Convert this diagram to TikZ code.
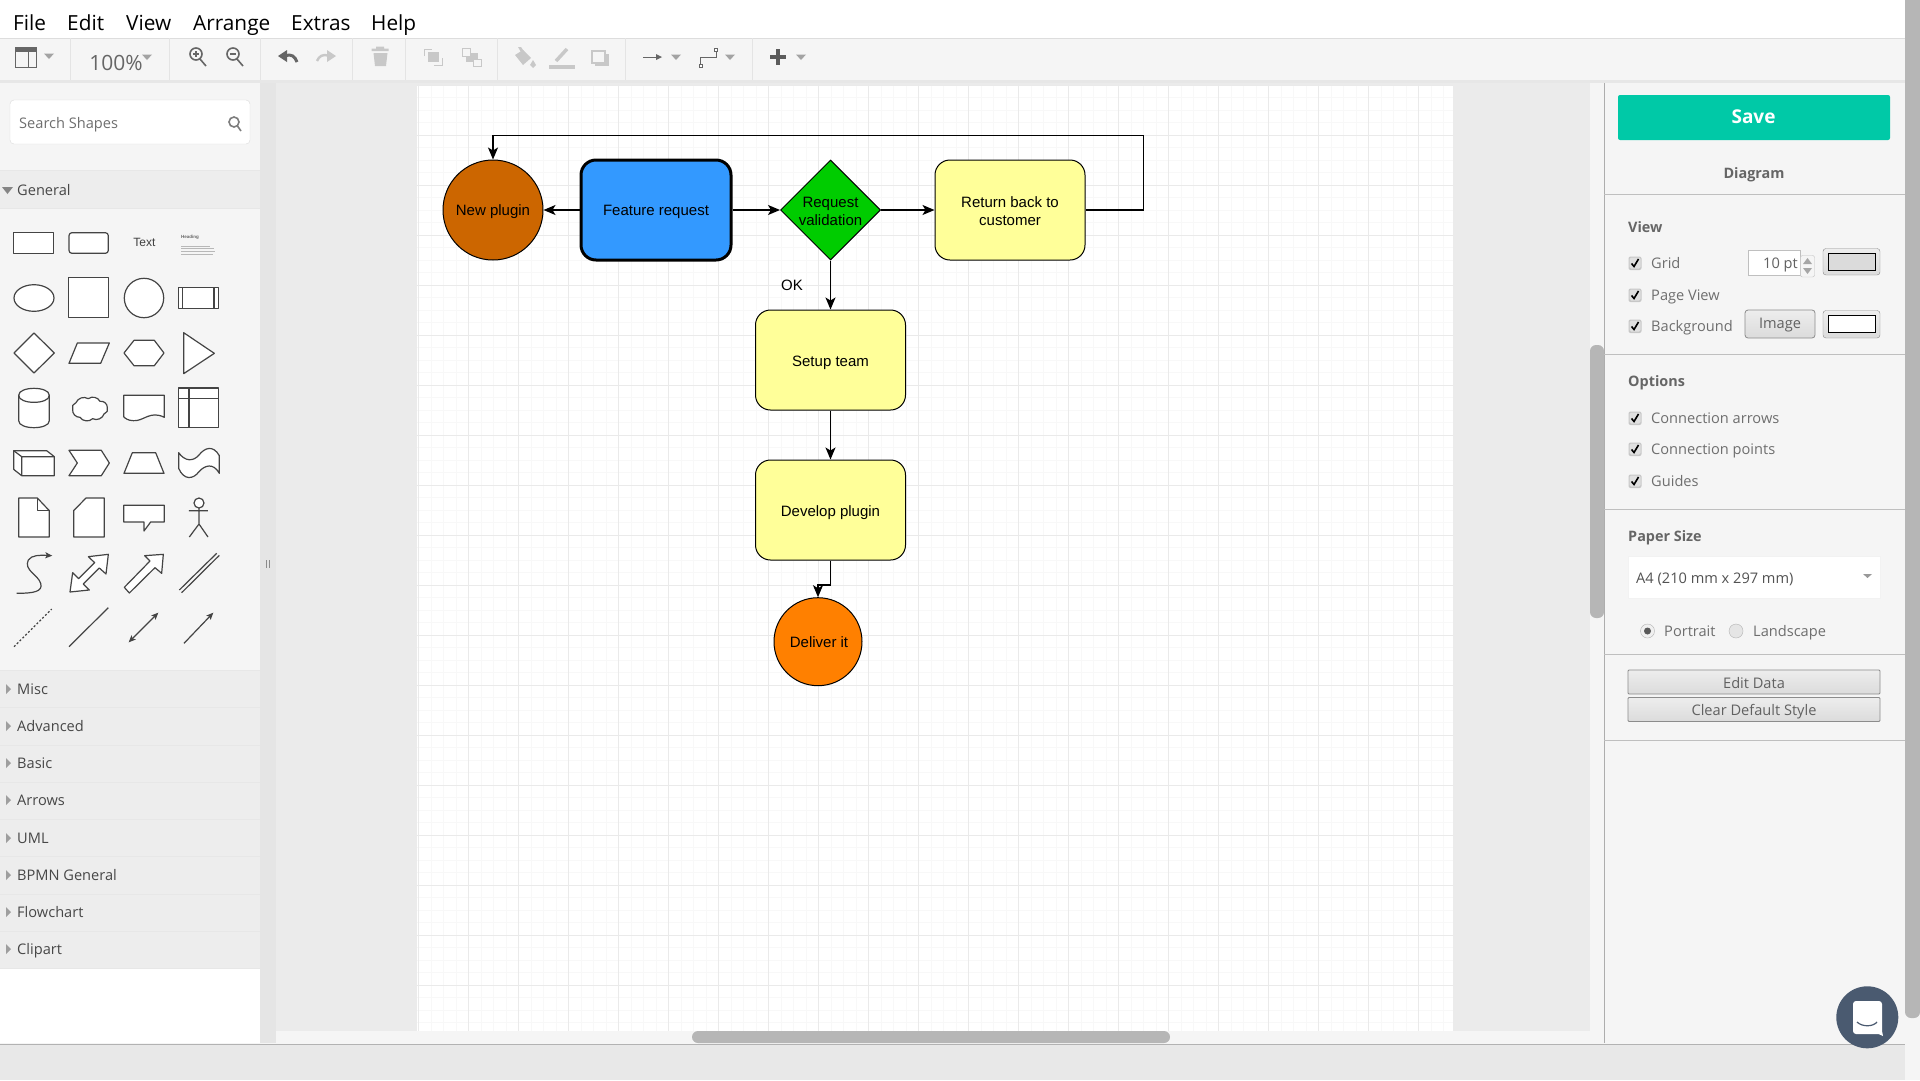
\documentclass[tikz,border=0pt]{standalone}
\usepackage{fontspec}
\setmainfont{Liberation Sans}
\newfontfamily\uifont{Open Sans}
\usetikzlibrary{arrows.meta,shapes.geometric,calc}
\definecolor{uibg}{HTML}{F5F5F5}
\definecolor{hdrbg}{HTML}{EDEDED}
\definecolor{canv}{HTML}{EBEBEB}
\definecolor{scrollc}{HTML}{B6B6B6}
\definecolor{gridmin}{HTML}{F8F8F8}
\definecolor{gridmaj}{HTML}{EAEAEA}
\definecolor{sepc}{HTML}{DDDDDD}
\definecolor{pen}{HTML}{444444}
\definecolor{icond}{HTML}{666666}
\definecolor{iconl}{HTML}{C8C8C8}
\definecolor{yel}{HTML}{FFFF99}
\definecolor{uitext}{HTML}{6E6E6E}
\definecolor{bluef}{HTML}{3399FF}
\definecolor{greenf}{HTML}{00CC00}
\definecolor{brownf}{HTML}{CC6600}
\definecolor{orangef}{HTML}{FF8000}
\definecolor{savec}{HTML}{00C9A7}
\definecolor{chatc}{HTML}{4A5A70}
\tikzset{
  menuitem/.style={anchor=base west,yshift=-7.5pt,inner sep=0pt,font=\uifont\fontsize{20.8}{22}\selectfont,text=black},
  catlabel/.style={anchor=base west,yshift=-5.5pt,inner sep=0pt,font=\uifont\fontsize{14.6}{16}\selectfont,text=black!72},
  optlabel/.style={anchor=base west,yshift=-5pt,inner sep=0pt,font=\uifont\fontsize{14.6}{16}\selectfont,text=uitext},
  secthead/.style={anchor=base west,yshift=-5pt,inner sep=0pt,font=\uifont\bfseries\fontsize{14.4}{16}\selectfont,text=black!60},
  flowbox/.style={draw=black,fill=yel,rounded corners=15pt,minimum width=150pt,minimum height=100pt,inner sep=0pt,line width=1pt},
  flowcirc/.style={draw=black,circle,inner sep=0pt,line width=1pt},
  flowdiam/.style={draw=black,diamond,fill=greenf,minimum width=100pt,minimum height=100pt,inner sep=0pt,line width=1pt},
  flowtxt/.style={inner sep=0pt,align=center,font=\fontsize{15}{18}\selectfont,text=black},
  flowone/.style={flowtxt,anchor=base,yshift=-5pt},
  flowarrow/.style={draw=black,line width=1.3pt,-{Stealth[length=12pt,width=10pt,inset=3pt]}},
  pal/.style={draw=pen,line width=1.2pt,line join=round},
  palfill/.style={pal,fill=white},
  dropd/.style={fill=icond!60,draw=none},
  uibutton/.style={draw=black!45,line width=.8pt,top color=white!93!black,bottom color=black!14,rounded corners=1pt,inner sep=0pt,font=\uifont\fontsize{14.6}{16}\selectfont,text=black!62},
}
\newcommand{\dropdn}[2]{\fill[dropd] (#1-5,#2-2.5) -- (#1+5,#2-2.5) -- (#1,#2+3) -- cycle;}
\newcommand{\chkbox}[2]{%
  \fill[black!22,rounded corners=2pt] (#1-6.5,#2-6.5) rectangle (#1+6.5,#2+7);
  \fill[white!88!black,rounded corners=1.5pt] (#1-5.5,#2-5.5) rectangle (#1+5.5,#2+5.5);
  \draw[black,line width=1.6pt] (#1-3.5,#2+.5) -- (#1-1,#2+3.5) -- (#1+3.5,#2-4);}
\begin{document}
\begin{tikzpicture}[x=1pt,y=-1pt]
\useasboundingbox (0,0) rectangle (1920,1080);
% backgrounds
\fill[uibg] (0,0) rectangle (1920,1080);
\fill[white] (0,0) rectangle (1905,38);
\draw[sepc] (0,38) -- (1905,38);
\fill[sepc!70!white] (0,80) rectangle (1905,83);
\fill[canv] (276,83) rectangle (1590,1043);
\fill[black!10] (260,83) rectangle (276,1043);
\fill[uibg] (0,83) rectangle (260,1043);
\fill[white] (0,968) rectangle (260,1043);
\fill[hdrbg] (0,170) rectangle (260,208);
\draw[sepc!70!white] (0,170) -- (260,170) (0,208) -- (260,208);
\fill[hdrbg] (0,670) rectangle (260,968);
\foreach \yy in {670,707,745,782,819,856,894,931,968}
  \draw[sepc!70!white] (0,\yy) -- (260,\yy);
% page and grid
\fill[white] (417.3,84.7) rectangle (1453,1031);
\foreach \xx in {418.5,431,...,1453} \draw[gridmin] (\xx,84.7) -- (\xx,1031);
\foreach \yy in {85,97.5,...,1031} \draw[gridmin] (417.3,\yy) -- (1453,\yy);
\foreach \xx in {418.5,468.5,...,1453} \draw[gridmaj] (\xx,84.7) -- (\xx,1031);
\foreach \yy in {85,135,...,1031} \draw[gridmaj] (417.3,\yy) -- (1453,\yy);
% tracks and scrollbars
\fill[uibg] (276,1031) rectangle (1604,1043);
\fill[uibg] (1590,83) rectangle (1604,1043);
\fill[scrollc,rounded corners=6pt] (692,1031) rectangle (1170,1043);
\fill[scrollc,rounded corners=6pt] (1590,345) rectangle (1604,618);
\fill[scrollc,rounded corners=6pt] (1905,-20) rectangle (1920,1018);
\fill[black!9] (0,1044) rectangle (1905,1080);
\draw[black!30] (0,1044) -- (1905,1044);
\draw[black!32] (1604,83) -- (1604,1043);
% menu
\node[menuitem] (mFile) at (13,23) {File};
\node[menuitem] (mEdit) at (67,23) {Edit};
\node[menuitem] (mView) at (126,23) {View};
\node[menuitem] (mArrange) at (193,23) {Arrange};
\node[menuitem] (mExtras) at (291,23) {Extras};
\node[menuitem] (mHelp) at (371,23) {Help};
% toolbar separators
\foreach \xx in {70,169.5,260.5,352,405,497,625,752}
  \draw[sepc!80!white] (\xx,38) -- (\xx,80);
% toolbar icons
\draw[icond,line width=1pt] (15,47.5) rectangle (36,67.5);
\fill[icond] (15,47.5) rectangle (36,52);
\draw[icond,line width=1.4pt] (28.5,52) -- (28.5,67.5);
\dropdn{49}{56}
\node[anchor=center,inner sep=0pt,font=\uifont\fontsize{21}{24}\selectfont,text=icond] (zoomlbl) at (116,63) {100\%};
\dropdn{147}{57}
\draw[icond,line width=1.6pt] (196,54) circle[radius=6pt] (200,59) -- (206,66);
\draw[icond,line width=1.2pt] (193,54) -- (199,54) (196,51) -- (196,57);
\draw[icond,line width=1.6pt] (233,54) circle[radius=6pt] (237,59) -- (243,66);
\draw[icond,line width=1.2pt] (230,54) -- (236,54);
\fill[icond] (278,56) -- (287,50) -- (287,62) -- cycle;
\draw[icond,line width=3pt] (286,55.5) .. controls (291,54) and (295,56) .. (297,62);
\fill[iconl] (336,56) -- (327,50) -- (327,62) -- cycle;
\draw[iconl,line width=2.4pt] (328,55.5) .. controls (323,54) and (319,56) .. (317,61);
\fill[iconl] (373.5,53) -- (387.5,53) -- (386,66) -- (375,66) -- cycle;
\fill[iconl] (371.5,48.5) rectangle (388.5,51) (376,46.5) rectangle (384,48.5);
\fill[iconl] (427.5,52) rectangle (439,62);
\draw[iconl,line width=1pt] (424,56) -- (424,49) -- (432,49) (442,58) -- (442,65) -- (434,65);
\fill[iconl] (466,53) rectangle (478,62);
\draw[iconl,line width=1pt,fill=uibg] (462,48) rectangle (470,56);
\draw[iconl,line width=1pt,fill=uibg] (473,59) rectangle (481,66);
\fill[iconl] (515,55) -- (523,50) -- (531,58) -- (523,65) -- cycle;
\fill[iconl] (518,47) -- (521,47) -- (525,53) -- (522,54) -- cycle;
\fill[iconl] (533,60) -- (536,65) -- (533,68) -- (530,65) -- cycle;
\fill[iconl] (549,65) rectangle (575,68.5);
\draw[iconl,line width=3.5pt] (556,61) -- (567,49);
\fill[iconl] (595,54) rectangle (609,65.5);
\draw[iconl,line width=2pt,fill=uibg] (592,51) rectangle (605,62.5);
\draw[icond,line width=1pt] (643,57) -- (658,57);
\fill[icond] (662,57) -- (656,54) -- (656,60) -- cycle;
\dropdn{676}{57}
\draw[icond,line width=1pt] (700.5,65) -- (700.5,57) -- (716,57) -- (716,50);
\draw[icond,line width=.8pt,fill=white] (699,64) rectangle (702,67) (714.5,48) rectangle (717.5,51);
\dropdn{730}{57}
\draw[icond!90!black,line width=4pt] (770,57) -- (786,57) (778,49) -- (778,65);
\dropdn{801}{57}
% search
\draw[black!14,fill=white,rounded corners=4pt] (10,100) rectangle (250,144);
\node[optlabel] (searchlbl) at (19,123) {Search Shapes};
\draw[icond!85!white,line width=1.6pt] (234,122) circle[radius=5pt] (237.5,126) -- (241,131);
% left categories
\fill[icond!80!white] (2,187) -- (13,187) -- (7.5,194) -- cycle;
\node[catlabel] (catGeneral) at (17,190) {General};
\foreach \yy/\nm in {689/Misc,726/Advanced,763/Basic,800/Arrows,838/UML,875/BPMN General,912/Flowchart,949/Clipart}{
  \fill[black!38] (6,\yy-5) -- (11,\yy) -- (6,\yy+5) -- cycle;
  \node[catlabel] (cat\yy) at (17,\yy) {\nm};
}
% drag handle
\draw[black!45,line width=1pt] (266,560) -- (266,568) (269,560) -- (269,568);
% palette
\begin{scope}[shift={(0,210)},x=0.33333pt,y=-0.33333pt]
\draw[palfill] (40,68) rectangle (160,130);
\draw[palfill,rounded corners=3pt] (207,68) rectangle (325,130);
\node[inner sep=0pt,font=\fontsize{12}{14}\selectfont,text=black!75] (palText) at (433,98) {Text};
\node[anchor=west,inner sep=0pt,font=\bfseries\fontsize{4.5}{5}\selectfont,text=black!60] (palHead) at (543,82) {Heading};
\draw[black!28,line width=.5pt] (544,109) -- (630,109) (544,116) -- (642,116) (544,124) -- (644,124) (544,132) -- (638,132);
\draw[palfill] (102,264) ellipse [x radius=20pt,y radius=13.3pt];
\draw[palfill] (206,203) rectangle (325,322);
\draw[palfill] (432,264) circle [radius=19.7pt];
\draw[palfill] (536,233) rectangle (655,295) (548,233) -- (548,295) (642,233) -- (642,295);
\draw[palfill] (42,429) -- (102,369) -- (163,429) -- (102,489) -- cycle;
\draw[palfill] (207,460) -- (232,399) -- (328,399) -- (302,460) -- cycle;
\draw[palfill] (372,429) -- (402,391) -- (463,391) -- (492,429) -- (463,467) -- (402,467) -- cycle;
\draw[palfill] (551,368) -- (643,430) -- (551,491) -- cycle;
\draw[palfill] (56,556) .. controls (56,528) and (148,528) .. (148,556) -- (148,632) .. controls (148,660) and (56,660) .. (56,632) -- cycle;
\draw[pal] (56,556) .. controls (56,584) and (148,584) .. (148,556);
\draw[palfill] (228,578) to[bend left=50] (265,566) to[bend left=50] (300,574) to[bend left=50] (322,592) to[bend left=50] (312,612) to[bend left=50] (278,626) to[bend left=50] (240,622) to[bend left=50] (218,598) to[bend left=50] cycle;
\draw[palfill] (371,556) -- (493,556) -- (493,622) .. controls (450,600) and (430,635) .. (400,632) .. controls (385,632) and (375,625) .. (371,620) -- cycle;
\draw[palfill] (536,534) rectangle (655,652) (567,534) -- (567,652) (536,565) -- (655,565);
\draw[palfill] (41,722) -- (140,722) -- (163,740) -- (163,797) -- (65,797) -- (41,778) -- cycle;
\draw[pal] (41,722) -- (65,740) -- (163,740) (65,740) -- (65,797);
\draw[palfill] (207,721) -- (304,721) -- (328,759) -- (304,797) -- (207,797) -- (232,759) -- cycle;
\draw[palfill] (372,790) -- (397,728) -- (467,728) -- (492,790) -- cycle;
\draw[palfill] (536,728) .. controls (555,755) and (580,755) .. (597,735) .. controls (615,712) and (640,705) .. (658,737) -- (658,790) .. controls (640,758) and (615,765) .. (597,785) .. controls (580,808) and (552,812) .. (536,775) -- cycle;
\draw[palfill] (56,864) -- (112,864) -- (148,902) -- (148,981) -- (56,981) -- cycle;
\draw[pal] (112,864) -- (112,902) -- (148,902);
\draw[palfill] (221,902) -- (258,864) -- (313,864) -- (313,981) -- (221,981) -- cycle;
\draw[palfill] (371,886) -- (493,886) -- (493,936) -- (452,936) -- (432,963) -- (432,936) -- (371,936) -- cycle;
\draw[palfill] (597,879) circle [radius=5pt];
\draw[pal] (597,894) -- (597,942) (567,902) -- (624,902) (568,981) -- (597,942) -- (624,981);
\draw[pal,-{Stealth[length=7pt,width=6pt,inset=1.5pt]}] (50,1150) .. controls (100,1150) and (130,1145) .. (122,1120) .. controls (115,1095) and (70,1080) .. (85,1050) .. controls (95,1035) and (120,1035) .. (157,1037);
\draw[palfill] (325,1033) -- (265,1040) -- (284,1058) -- (236,1106) -- (218,1088) -- (210,1146) -- (268,1140) -- (250,1122) -- (298,1074) -- (318,1092) -- cycle;
\draw[palfill] (490,1033) -- (434,1037) -- (450,1053) -- (373,1132) -- (388,1149) -- (465,1073) -- (485,1090) -- cycle;
\draw[pal] (538,1140) -- (650,1030) (545,1148) -- (658,1036);
\draw[pal,dashed,dash pattern=on 2pt off 2pt] (42,1310) -- (155,1197);
\draw[pal] (207,1310) -- (325,1193);
\draw[pal,{Stealth[length=7pt,width=6pt,inset=1.5pt]}-{Stealth[length=7pt,width=6pt,inset=1.5pt]}] (386,1297) -- (475,1208);
\draw[pal,-{Stealth[length=7pt,width=6pt,inset=1.5pt]}] (552,1300) -- (640,1208);
\end{scope}
% diagram
\node[flowcirc,fill=brownf,minimum size=100pt] (newplugin) at (493,210) {};
\node[flowone] (newpluginT) at (493,210) {New plugin};
\node[flowbox,fill=bluef,line width=3pt,minimum width=150pt,minimum height=100pt] (feature) at (656,210) {};
\node[flowone] (featureT) at (656,210) {Feature request};
\node[flowdiam] (request) at (830.5,210) {};
\node[flowtxt] (requestT) at (830.5,211) {Request\\validation};
\node[flowbox] (ret) at (1010,210) {};
\node[flowtxt] (retT) at (1010,211) {Return back to\\customer};
\node[flowbox] (setup) at (830.5,360) {};
\node[flowone] (setupT) at (830.5,361) {Setup team};
\node[flowbox] (develop) at (830.5,510) {};
\node[flowone] (developT) at (830.5,511) {Develop plugin};
\node[flowcirc,fill=orangef,minimum size=88pt] (deliver) at (818,641.7) {};
\node[flowone] (deliverT) at (819,642) {Deliver it};
\node[flowone] (oklbl) at (792,285) {OK};
\coordinate (loopa) at (1143.7,210);
\coordinate (loopb) at (1143.7,135.3);
\coordinate (loopc) at (493,135.3);
\coordinate (jogy) at (830.5,585);
\coordinate (jogx) at (818,585);
\draw[flowarrow] (feature.west) -- (newplugin.east);
\draw[flowarrow] (feature.east) -- (request.west);
\draw[flowarrow] (request.east) -- (ret.west);
\draw[flowarrow] (request.south) -- (setup.north);
\draw[flowarrow] (setup.south) -- (develop.north);
\draw[flowarrow] (develop.south) -- (jogy) -- (jogx) -- (deliver.north);
\draw[flowarrow] (ret.east) -- (loopa) -- (loopb) -- (loopc) -- (newplugin.north);
% right panel
\fill[savec,rounded corners=2pt] (1618,95) rectangle (1890,140);
\node[anchor=base,yshift=-6.5pt,inner sep=0pt,font=\uifont\bfseries\fontsize{19}{22}\selectfont,text=white] (savelbl) at (1753.5,117) {Save};
\node[secthead,anchor=base] (diaglbl) at (1754,173) {Diagram};
\foreach \yy in {194,354,509,654,740} \draw[black!25] (1604,\yy) -- (1905,\yy);
\node[secthead] (viewlbl) at (1628,227) {View};
\chkbox{1635}{263} \node[optlabel] (gridlbl) at (1651,263) {Grid};
\chkbox{1635}{295} \node[optlabel] (pagelbl) at (1651,295) {Page View};
\chkbox{1635}{326} \node[optlabel] (bglbl) at (1651,326) {Background};
\draw[black!25,fill=white] (1748,250) rectangle (1800,275);
\node[anchor=base east,yshift=-5pt,inner sep=0pt,font=\uifont\fontsize{14.6}{16}\selectfont,text=black!62] (ptlbl) at (1798,263) {10 pt};
\draw[black!25,fill=uibg,rounded corners=2pt] (1800.5,255.5) rectangle (1814.5,277);
\fill[black!35] (1807.5,258) -- (1812,264) -- (1803,264) -- cycle (1807.5,274) -- (1812,268) -- (1803,268) -- cycle;
\draw[black!45,top color=white!93!black,bottom color=black!14,rounded corners=3pt] (1823,248.5) rectangle (1880,275);
\draw[black,fill=black!14,line width=1pt] (1828.5,253.5) rectangle (1875,270);
\node[uibutton,rounded corners=3pt,minimum width=70pt,minimum height=28pt,text height=8pt,text depth=0pt] (imgbtn) at (1780,324) {Image};
\draw[black!45,top color=white!93!black,bottom color=black!14,rounded corners=3pt] (1823,310.5) rectangle (1880,338);
\draw[black,fill=white,line width=1pt] (1828.5,315.5) rectangle (1875,332.5);
\node[secthead] (optslbl) at (1628,381) {Options};
\chkbox{1635}{418} \node[optlabel] (carrlbl) at (1651,418) {Connection arrows};
\chkbox{1635}{449} \node[optlabel] (cptlbl) at (1651,449) {Connection points};
\chkbox{1635}{481} \node[optlabel] (guidelbl) at (1651,481) {Guides};
\node[secthead] (paperlbl) at (1628,536) {Paper Size};
\draw[black!5,fill=white] (1628,556) rectangle (1880,598);
\node[anchor=base west,yshift=-5pt,inner sep=0pt,font=\uifont\fontsize{14.6}{16}\selectfont,text=black!68] (a4lbl) at (1636,578) {A4 (210 mm x 297 mm)};
\fill[black!40] (1863,574) -- (1872,574) -- (1867.5,578) -- cycle;
\draw[black!30,fill=black!6] (1647.5,631) circle[radius=7pt];
\fill[black!65] (1647.5,631) circle[radius=3.5pt];
\node[optlabel] (portlbl) at (1664,631) {Portrait};
\draw[black!30,fill=black!10] (1736,631) circle[radius=7pt];
\node[optlabel] (landlbl) at (1753,631) {Landscape};
\node[uibutton,minimum width=252pt,minimum height=24pt,text height=12pt,text depth=0pt] (editbtn) at (1754,682) {Edit Data};
\node[uibutton,minimum width=252pt,minimum height=24pt,text height=11pt,text depth=0pt] (clearbtn) at (1754,709.5) {Clear Default Style};
% chat bubble
\fill[chatc] (1867.3,1017.3) circle[radius=31pt];
\fill[white,rounded corners=3pt] (1853,1001) rectangle (1882,1034);
\fill[white] (1872,1031) -- (1882,1031) -- (1883,1036) -- cycle;
\draw[chatc,line width=1.2pt] (1857,1022) .. controls (1862,1027) and (1873,1027) .. (1877,1022);
\end{tikzpicture}
\end{document}
